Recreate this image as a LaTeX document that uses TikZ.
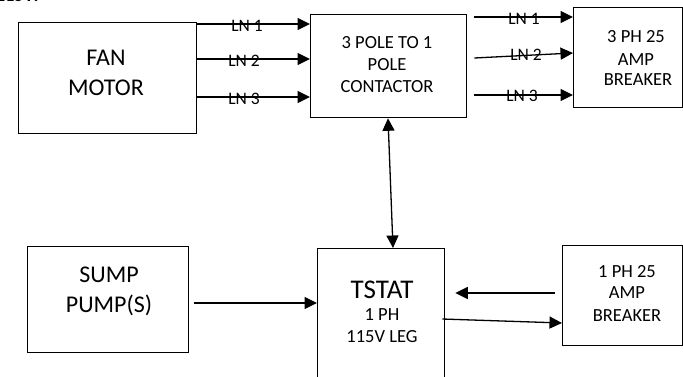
\documentclass[tikz,border=0pt]{standalone}
\usepackage{fontspec}
\setmainfont{Carlito}
\usetikzlibrary{arrows.meta}
\begin{document}
\begin{tikzpicture}[x=1pt,y=-1pt,
  box/.style={draw,line width=1.3pt,rectangle,inner sep=0pt,anchor=north west},
  tip/.tip={Triangle[length=12.5pt,width=12pt]},
  arr/.style={line width=1.3pt,-tip},
  dbl/.style={line width=1.3pt,tip-tip},
  big/.style={font=\fontsize{24}{29}\selectfont,anchor=base,inner sep=0pt},
  mid/.style={font=\fontsize{18.5}{22}\selectfont,anchor=base,inner sep=0pt},
  lnlbl/.style={font=\fontsize{17.5}{21}\selectfont,anchor=base,inner sep=0pt}]
\useasboundingbox (0,0) rectangle (683,376);
\clip (0,0) rectangle (683,376);
\fill[white] (0,0) rectangle (683,376);
% cut-off heading
\node[font=\bfseries\fontsize{18}{22}\selectfont,anchor=base west,inner sep=0pt] (head) at (-4,1.5) {115V:};
% boxes
\node[box,minimum width=178pt,minimum height=111pt] (fan) at (18,22) {};
\node[box,minimum width=156pt,minimum height=103pt] (cont) at (310,14) {};
\node[box,minimum width=109pt,minimum height=100pt] (b3) at (573,7) {};
\node[box,minimum width=161pt,minimum height=106pt] (sump) at (27,246) {};
\node[box,minimum width=127pt,minimum height=142pt] (tstat) at (317,248) {};
\node[box,minimum width=120pt,minimum height=100pt] (b1) at (562,245) {};
% box texts
\node[big] (fan1) at (106,65) {FAN};
\node[big] (fan2) at (106,95) {MOTOR};
\node[mid] (c1) at (387,48) {3 POLE TO 1};
\node[mid] (c2) at (387,70) {POLE};
\node[mid] (c3) at (387,92) {CONTACTOR};
\node[mid] (p1) at (636,42) {3 PH 25};
\node[mid] (p2) at (636,65) {AMP};
\node[mid] (p3) at (638,85) {BREAKER};
\node[big] (s1) at (109,282) {SUMP};
\node[big] (s2) at (109,312) {PUMP(S)};
\node[big,font=\fontsize{27}{32}\selectfont] (t1) at (382,298) {TSTAT};
\node[mid] (t2) at (382,320) {1 PH};
\node[mid] (t3) at (382,342) {115V LEG};
\node[mid] (q1) at (627,277) {1 PH 25};
\node[mid] (q2) at (627,298) {AMP};
\node[mid] (q3) at (627,321) {BREAKER};
% fan -> contactor
\draw[arr] (fan.east |- 0,24) -- (cont.west |- 0,24);
\draw[arr] (fan.east |- 0,59) -- (cont.west |- 0,59);
\draw[arr] (fan.east |- 0,97) -- (cont.west |- 0,97);
\node[lnlbl] (l1) at (247,31) {LN 1};
\node[lnlbl] (l2) at (244,66) {LN 2};
\node[lnlbl] (l3) at (244,104) {LN 3};
% contactor -> breaker
\draw[arr] ([xshift=7pt]cont.east |- 0,17) -- (b3.west |- 0,17);
\draw[arr] ([xshift=7pt]cont.east |- 0,58) -- (b3.west |- 0,53);
\draw[arr] ([xshift=7pt]cont.east |- 0,95) -- (b3.west |- 0,95);
\node[lnlbl] (r1) at (524,24) {LN 1};
\node[lnlbl] (r2) at (526,60) {LN 2};
\node[lnlbl] (r3) at (522,101) {LN 3};
% contactor <-> tstat
\draw[dbl] (cont.south -| 388,0) -- (tstat.north -| 393,0);
% sump -> tstat
\draw[arr] ([xshift=5pt]sump.east |- 0,303) -- (tstat.west |- 0,303);
% breaker -> tstat and tstat -> breaker
\draw[arr] ([xshift=-7pt]b1.west |- 0,293) -- ([xshift=10pt]tstat.east |- 0,293);
\draw[arr] ([xshift=-3pt]tstat.east |- 0,319) -- (b1.west |- 0,323);
\end{tikzpicture}
\end{document}
